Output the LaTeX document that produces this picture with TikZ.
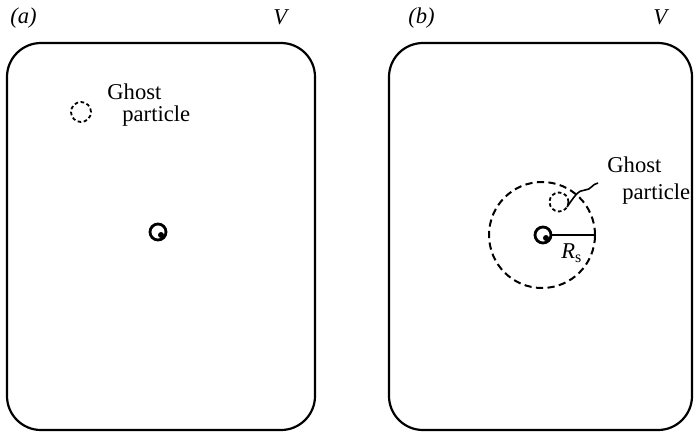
\documentclass[tikz,border=0pt]{standalone}
\usepackage{fontspec}
\setmainfont{Liberation Serif}
\begin{document}
\begin{tikzpicture}[x=0.5pt,y=-0.5pt,
  boxst/.style={draw,line width=1.1pt,rounded corners=17pt},
  lbl/.style={inner sep=0pt,font=\fontsize{11.3}{13}\selectfont},
  bigdash/.style={draw,line width=1pt,dash pattern=on 3.6pt off 2.2pt},
  smalldash/.style={draw,line width=0.9pt,dash pattern=on 1.8pt off 1.3pt},
  molec/.style={circle,draw,line width=1.4pt,minimum size=8pt,inner sep=0pt}]
\useasboundingbox (0,0) rectangle (694,433);
% boxes
\draw[boxst] (7,43) rectangle (315,430);
\draw[boxst] (389,43) rectangle (692,430);
% labels
\node[lbl,anchor=base west] (la) at (10,24) {\textit{(a)}};
\node[lbl,anchor=base west] (va) at (273,25) {\textit{V}};
\node[lbl,anchor=base west] (lb) at (408,24) {\textit{(b)}};
\node[lbl,anchor=base west] (vb) at (653,25) {\textit{V}};
% (a)
\node[lbl,anchor=base west] (ga) at (107,99) {Ghost};
\node[lbl,anchor=base west] (pa) at (122,121) {particle};
\node[smalldash,circle,minimum size=10pt,inner sep=0pt] (gca) at (81,112) {};
\node[molec] (ma) at (158,232) {};
\fill (161,235) circle (3);
% (b)
\node[bigdash,circle,minimum size=53pt,inner sep=0pt] (big) at (542,235) {};
\node[molec] (mb) at (543,235) {};
\fill (546,238) circle (3);
\coordinate (rs) at (596,235);
\draw[line width=1pt] (mb.east) -- (rs);
\node[lbl,anchor=base west] (rlab) at (561,258) {\textit{R}\raisebox{-0.45ex}{\fontsize{8}{9}\selectfont s}};
\node[smalldash,circle,minimum size=9.5pt,inner sep=0pt] (gcb) at (559,202) {};
\node[lbl,anchor=base west] (gb) at (607,172) {Ghost};
\node[lbl,anchor=base west] (pb) at (622,199) {particle};
\coordinate (wend) at (598,183);
\draw[line width=0.8pt] (567,207) .. controls (574,197) and (578,190) .. (585,190) .. controls (591,190) and (592,184) .. (wend);
\end{tikzpicture}
\end{document}
